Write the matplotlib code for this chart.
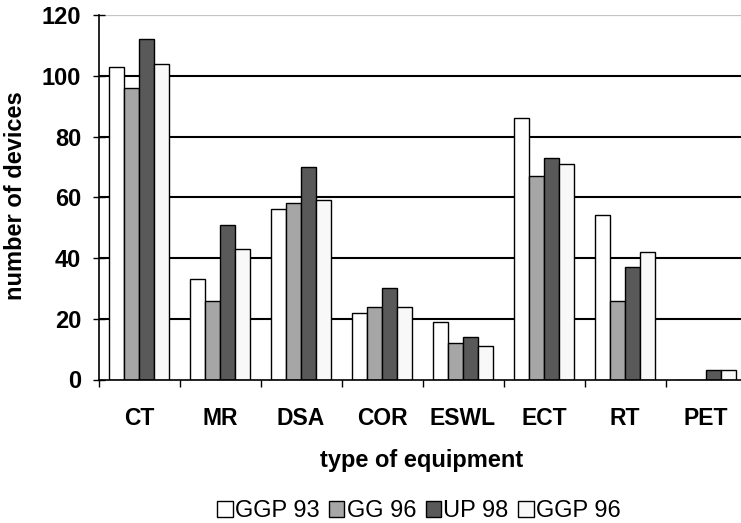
import matplotlib
matplotlib.use("Agg")
import matplotlib.pyplot as plt
import numpy as np

plt.rcParams['font.family'] = ['Liberation Sans', 'DejaVu Sans']

categories = ["CT", "MR", "DSA", "COR", "ESWL", "ECT", "RT", "PET"]
series_names = ["GGP 93", "GG 96", "UP 98", "GGP 96"]
ggp93 = [103, 33, 56, 22, 19, 86, 54, 0]
gg96 = [96, 26, 58, 24, 12, 67, 26, 0]
up98 = [112, 51, 70, 30, 14, 73, 37, 3]
ggp96 = [104, 43, 59, 24, 11, 71, 42, 3]
y_ticks = [0, 20, 40, 60, 80, 100, 120]

colors = ["#ffffff", "#a6a6a6", "#595959", "#f8f8f8"]

fig = plt.figure(figsize=(7.41, 5.23), dpi=100)
ax = fig.add_axes([98.5 / 741, 1 - 379.5 / 523, 648 / 741, 364.5 / 523])

x = np.arange(len(categories))
bar_width = 0.185
all_series = [ggp93, gg96, up98, ggp96]
for i, (vals, name, c) in enumerate(zip(all_series, series_names, colors)):
    offs = (i - 1.5) * bar_width
    ax.bar(x + offs, vals, bar_width, color=c, edgecolor="black",
           linewidth=1.0, label=name, zorder=3)

# horizontal grid lines
for yv in y_ticks[1:-1]:
    ax.axhline(yv, color="black", linewidth=1.5, zorder=1)
ax.axhline(120, color="#c4c4c4", linewidth=1.6, zorder=1)

ax.set_xlim(-0.5, len(categories) - 0.5)
ax.set_ylim(0, 120)
ax.set_yticks(y_ticks)
ax.set_yticklabels([str(v) for v in y_ticks], fontsize=17, fontweight="bold")
ax.tick_params(axis="y", direction="inout", length=9, width=1.0, pad=8)

ax.set_xticks(x)
ax.set_xticklabels(categories, fontsize=16.5, fontweight="bold")
ax.set_xticks(np.arange(-0.5, len(categories) + 0.5, 1.0), minor=True)
ax.tick_params(axis="x", which="major", length=0, pad=20)
ax.tick_params(axis="x", which="minor", direction="out", length=5, width=1.0)

for s in ["top", "right"]:
    ax.spines[s].set_visible(False)
for s in ["left", "bottom"]:
    ax.spines[s].set_linewidth(1.2)
    ax.spines[s].set_color("black")
    ax.spines[s].set_zorder(4)

fig.text(15.5 / 741, 1 - 196 / 523, "number of devices", rotation=90,
         ha="center", va="center", fontsize=17, fontweight="bold")
fig.text(422 / 741, 1 - 461 / 523, "type of equipment",
         ha="center", va="center", fontsize=17, fontweight="bold")

fig.legend(loc="center", bbox_to_anchor=(419 / 741, 1 - 511 / 523), ncol=4,
           frameon=False, fontsize=17, handlelength=0.65, handleheight=0.65,
           handletextpad=0.1, columnspacing=0.4, borderpad=0)

fig.savefig("out.png", dpi=100)
